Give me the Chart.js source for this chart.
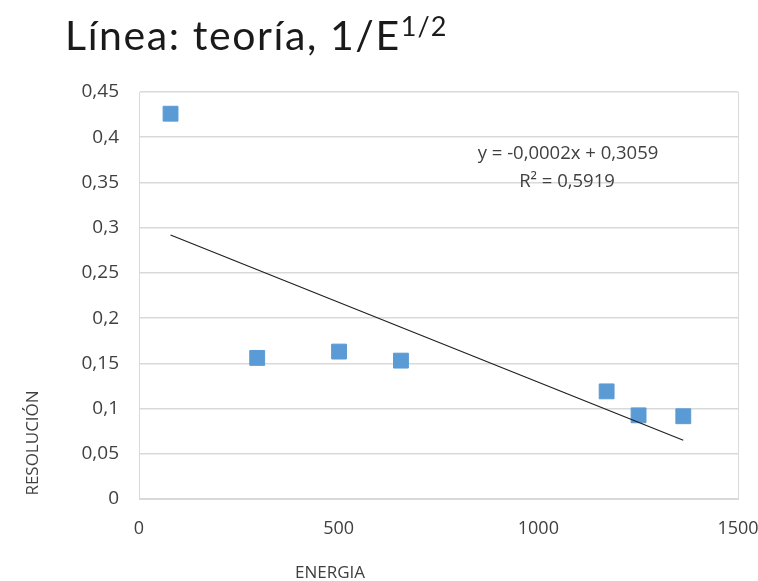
<!DOCTYPE html>
<html>
<head>
<meta charset="utf-8">
<script src="https://cdn.jsdelivr.net/npm/chart.js@4.4.1/dist/chart.umd.min.js"></script>
<style>
  html, body { margin: 0; padding: 0; background: #fff; }
  #wrap { position: relative; width: 758px; height: 581px; }
  #title {
    position: absolute; left: 65px; top: 10px;
    font-family: "Comic Sans MS", Lato, sans-serif;
    font-size: 41px; color: #1a1a1a; white-space: nowrap;
    letter-spacing: 1.6px;
  }
  #title sup { font-size: 27px; vertical-align: 0; position: relative; top: -14px; letter-spacing: 1px; }
  canvas { position: absolute; left: 0; top: 0; }
</style>
</head>
<body>
<div id="wrap">
  <canvas id="myChart" width="758" height="581"></canvas>
  <div id="title">Línea: teoría, 1/E<sup>1/2</sup></div>
</div>
<script>
const energia = [79, 296, 501, 656, 1171, 1251, 1363];
const resolucion = [0.426, 0.156, 0.163, 0.153, 0.119, 0.0925, 0.0915];
const xTicks = [0, 500, 1000, 1500];
const yTicks = [0, 0.05, 0.1, 0.15, 0.2, 0.25, 0.3, 0.35, 0.4, 0.45];

// least squares trendline over the measured range
const n = energia.length;
const mx = energia.reduce((a, b) => a + b, 0) / n;
const my = resolucion.reduce((a, b) => a + b, 0) / n;
let sxy = 0, sxx = 0, syy = 0;
for (let i = 0; i < n; i++) {
    sxy += (energia[i] - mx) * (resolucion[i] - my);
    sxx += (energia[i] - mx) ** 2;
    syy += (resolucion[i] - my) ** 2;
}
const slope = sxy / sxx;
const intercept = my - slope * mx;
const r2 = (sxy * sxy) / (sxx * syy);
const xMin = Math.min(...energia), xMax = Math.max(...energia);

const fmt = (v, d) => v.toFixed(d).replace(".", ",");
const eqText = "y = " + fmt(slope, 4) + "x + " + fmt(intercept, 4);
const r2Text = "R² = " + fmt(r2, 4);

const tickFont = { family: "'Open Sans', sans-serif", size: 19 };

const extraText = {
    id: "extraText",
    afterDraw(chart) {
        const { ctx, chartArea } = chart;
        ctx.save();
        ctx.fillStyle = "#404040";
        ctx.font = "18.5px 'Open Sans', sans-serif";
        ctx.textAlign = "center";
        ctx.textBaseline = "middle";
        ctx.fillText(eqText, chartArea.left + 429, chartArea.top + 62);
        ctx.fillText(r2Text, chartArea.left + 428, chartArea.top + 90);

        // axis titles
        ctx.font = "17px 'Open Sans', sans-serif";
        ctx.fillText("ENERGIA", chartArea.left + 191, 573);
        ctx.translate(33, chartArea.bottom - 56);
        ctx.rotate(-Math.PI / 2);
        ctx.fillText("RESOLUCIÓN", 0, 0);
        ctx.restore();
    }
};

new Chart(document.getElementById("myChart"), {
    data: {
        datasets: [
            {
                type: "scatter",
                label: "Resolución",
                data: energia.map((e, i) => ({ x: e, y: resolucion[i] })),
                backgroundColor: "#5b9bd5",
                borderColor: "#5b9bd5",
                pointStyle: "rect",
                pointRadius: 10.5,
                pointHoverRadius: 10.5,
                order: 2
            },
            {
                type: "line",
                label: "Tendencia",
                data: [
                    { x: xMin, y: intercept + slope * xMin },
                    { x: xMax, y: intercept + slope * xMax }
                ],
                borderColor: "#1f1f1f",
                borderWidth: 1.2,
                pointRadius: 0,
                fill: false,
                order: 1
            }
        ]
    },
    options: {
        responsive: false,
        animation: false,
        layout: { padding: { top: 92, right: 20, left: 0, bottom: 0 } },
        plugins: {
            legend: { display: false },
            tooltip: { enabled: false }
        },
        scales: {
            x: {
                type: "linear",
                min: 0,
                max: 1500,
                afterBuildTicks: (s) => { s.ticks = xTicks.map(v => ({ value: v })); },
                afterFit: (s) => { s.height = 82; s.paddingRight = 0; s.paddingLeft = 0; },
                grid: {
                    drawTicks: false,
                    color: (c) => (c.tick && c.tick.value === 1500 ? "#d9d9d9" : "rgba(0,0,0,0)")
                },
                border: { color: "#d9d9d9" },
                ticks: {
                    padding: 19,
                    color: "#404040",
                    font: { family: "'Open Sans', sans-serif", size: 18 },
                    callback: (v) => String(v)
                }
            },
            y: {
                min: 0,
                max: 0.45,
                afterBuildTicks: (s) => { s.ticks = yTicks.map(v => ({ value: v })); },
                afterFit: (s) => { s.width = 139; },
                grid: { drawTicks: false, color: "#d9d9d9", lineWidth: 1.5 },
                border: { color: "#d9d9d9" },
                ticks: {
                    padding: 20,
                    color: "#404040",
                    font: tickFont,
                    callback: (v) => String(+v.toFixed(2)).replace(".", ",")
                }
            }
        }
    },
    plugins: [extraText]
});
</script>
</body>
</html>
